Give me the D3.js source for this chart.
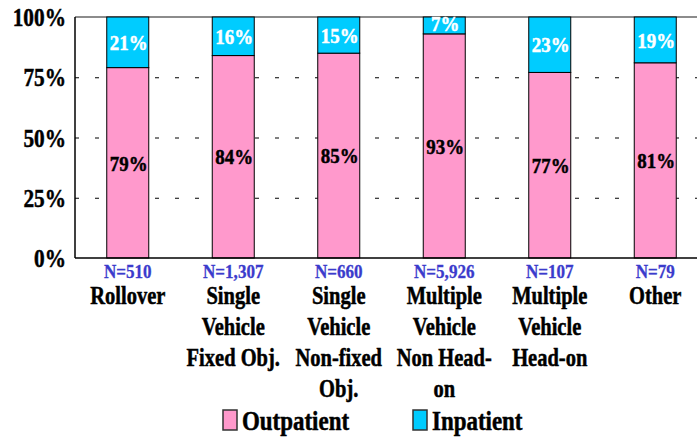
<!DOCTYPE html>
<html><head><meta charset="utf-8">
<script src="https://cdn.jsdelivr.net/npm/d3@7"></script>
</head>
<body style="margin:0;background:#fff">
<svg id="chart" width="697" height="437" style="display:block"></svg>
<script>
const categories = ["Rollover","Single Vehicle Fixed Obj.","Single Vehicle Non-fixed Obj.","Multiple Vehicle Non Head-on","Multiple Vehicle Head-on","Other"];
const categoryLines = [["Rollover"],["Single","Vehicle","Fixed Obj."],["Single","Vehicle","Non-fixed","Obj."],["Multiple","Vehicle","Non Head-","on"],["Multiple","Vehicle","Head-on"],["Other"]];
const nLabels = ["N=510","N=1,307","N=660","N=5,926","N=107","N=79"];
const outpatient = [79,84,85,93,77,81];
const inpatient = [21,16,15,7,23,19];
const yTicks = [0,25,50,75,100];
const seriesNames = ["Outpatient","Inpatient"];
const colors = ["#ff99cc","#00ccff"];

const FONT = "Liberation Serif";
const svg = d3.select("#chart");
const pLeft = 75, pRight = 708, pTop = 17, pBottom = 258;
const x = d3.scaleBand().domain(categories).range([pLeft, pRight]).paddingInner(0.6).paddingOuter(0.3);
const y = d3.scaleLinear().domain([0,100]).range([pBottom, pTop]);

function label(sel, size, color) {
  return sel.attr("font-family", FONT).attr("font-weight", "bold").attr("font-size", size)
    .attr("x", 0).attr("y", 0).attr("fill", color).attr("stroke", color).attr("stroke-width", 0.5);
}

// gridlines
const g = svg.append("g");
g.selectAll("line.grid").data(yTicks.filter(t => t > 0 && t < 100)).join("line")
  .attr("x1", pLeft).attr("x2", 697).attr("y1", d => y(d) + 0.5).attr("y2", d => y(d) + 0.5)
  .attr("stroke", "#000").attr("stroke-width", 1).attr("stroke-dasharray", "4,16");
g.append("line").attr("x1", pLeft).attr("x2", 697).attr("y1", y(100)).attr("y2", y(100))
  .attr("stroke", "#666").attr("stroke-width", 1.5);

// y labels
label(svg.append("g").selectAll("text").data(yTicks).join("text"), 26, "#000")
  .attr("transform", d => `translate(66,${y(d)}) scale(0.82,1)`)
  .attr("dy", "0.35em").attr("text-anchor", "end").text(d => d + "%");

// stacked data
const stackData = categories.map((c, i) => ({cat: c, Outpatient: outpatient[i], Inpatient: inpatient[i]}));
const stack = d3.stack().keys(seriesNames)(stackData);

const bw = 42;
const cx = c => x(c) + x.bandwidth()/2;
stack.forEach((s, si) => {
  svg.append("g").selectAll("rect").data(s).join("rect")
    .attr("x", d => cx(d.data.cat) - bw/2).attr("width", bw)
    .attr("y", d => y(d[1])).attr("height", d => y(d[0]) - y(d[1]))
    .attr("fill", colors[si]).attr("stroke", "#000").attr("stroke-width", 1);
  label(svg.append("g").selectAll("text").data(s).join("text"), 22, si === 0 ? "#000" : "#fff")
    .attr("transform", d => `translate(${cx(d.data.cat) + 1},${(y(d[0]) + y(d[1]))/2 + (si === 1 && (d[1]-d[0]) < 10 ? -2 : 0)}) scale(0.86,1)`)
    .attr("dy", "0.35em").attr("text-anchor", "middle")
    .text(d => (d[1]-d[0]) + "%");
});

// axes lines
svg.append("line").attr("x1", pLeft).attr("x2", pLeft).attr("y1", pTop).attr("y2", pBottom).attr("stroke", "#000").attr("stroke-width", 1.5);
svg.append("line").attr("x1", pLeft).attr("x2", 697).attr("y1", pBottom).attr("y2", pBottom).attr("stroke", "#000").attr("stroke-width", 1.5);

// N labels
label(svg.append("g").selectAll("text").data(categories).join("text"), 19, "#3b3bcc")
  .attr("transform", c => `translate(${cx(c)},278) scale(0.9,1)`)
  .attr("text-anchor", "middle").attr("stroke-width", 0.3)
  .text((c, i) => nLabels[i]);

// category labels
const cl = label(svg.append("g").selectAll("text").data(categories).join("text"), 25, "#000")
  .attr("transform", c => `translate(${cx(c)},304) scale(0.82,1)`)
  .attr("text-anchor", "middle");
cl.each(function(c, i) {
  const t = d3.select(this);
  categoryLines[i].forEach((line, li) => {
    t.append("tspan").attr("x", 0).attr("y", li*31).text(line);
  });
});

// legend
const legendX = [223, 413];
const lg = svg.append("g").selectAll("g").data(seriesNames).join("g")
  .attr("transform", (d, i) => `translate(${legendX[i]},410)`);
lg.append("rect").attr("width", 14).attr("height", 20).attr("fill", (d, i) => colors[i]).attr("stroke", "#333").attr("stroke-width", 1.5);
label(lg.append("text"), 27, "#000").attr("transform", "translate(19,20) scale(0.85,1)").text(d => d);
</script>
</body></html>
